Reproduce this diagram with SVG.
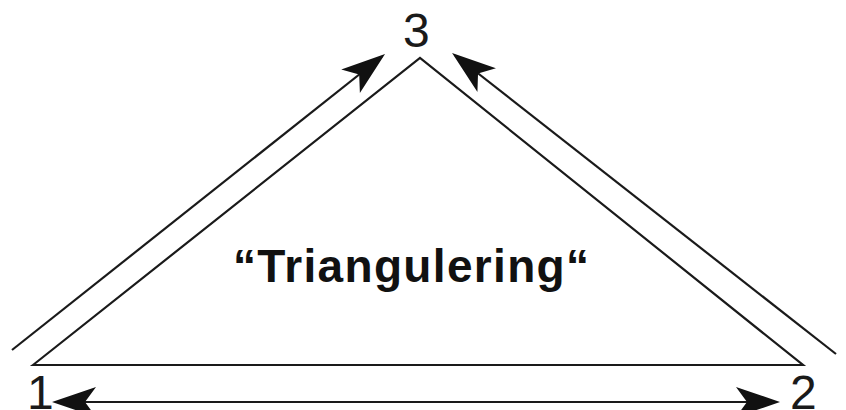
<svg xmlns="http://www.w3.org/2000/svg" width="846" height="410" viewBox="0 0 846 410">
<style>
.ln{stroke:#1a1a1a;stroke-width:2.2;fill:none}
.lbl{font-family:"Liberation Sans",Arial,sans-serif;font-size:48px;fill:#1a1a1a}
.ttl{font-family:"Liberation Sans",Arial,sans-serif;font-size:46px;font-weight:bold;fill:#111}
</style>
<defs>
<marker id="ah" viewBox="-46 -17 50 34" refX="-4" refY="0" markerWidth="50" markerHeight="34" markerUnits="userSpaceOnUse" orient="auto-start-reverse">
<path d="M0,0 L-44,-15 L-33,0 L-44,15 Z" fill="#111"/>
</marker>
</defs>
<rect width="846" height="410" fill="#fff"/>
<g id="triangle">
<polygon class="ln" points="33,365 420,58 803,365"/>
</g>
<g id="connectors">
<line class="ln" x1="12" y1="350" x2="381.9" y2="56.5" marker-end="url(#ah)"/>
<line class="ln" x1="836" y1="354" x2="455.2" y2="55.5" marker-end="url(#ah)"/>
<line class="ln" x1="56" y1="402" x2="776" y2="402" marker-start="url(#ah)" marker-end="url(#ah)"/>
</g>
<g id="node1"><text class="lbl" x="27" y="409">1</text></g>
<g id="node2"><text class="lbl" x="790" y="409">2</text></g>
<g id="node3"><text class="lbl" x="403" y="47">3</text></g>
<g id="title"><text class="ttl" x="411" y="282" text-anchor="middle" textLength="356" lengthAdjust="spacing">“Triangulering“</text></g>
</svg>
